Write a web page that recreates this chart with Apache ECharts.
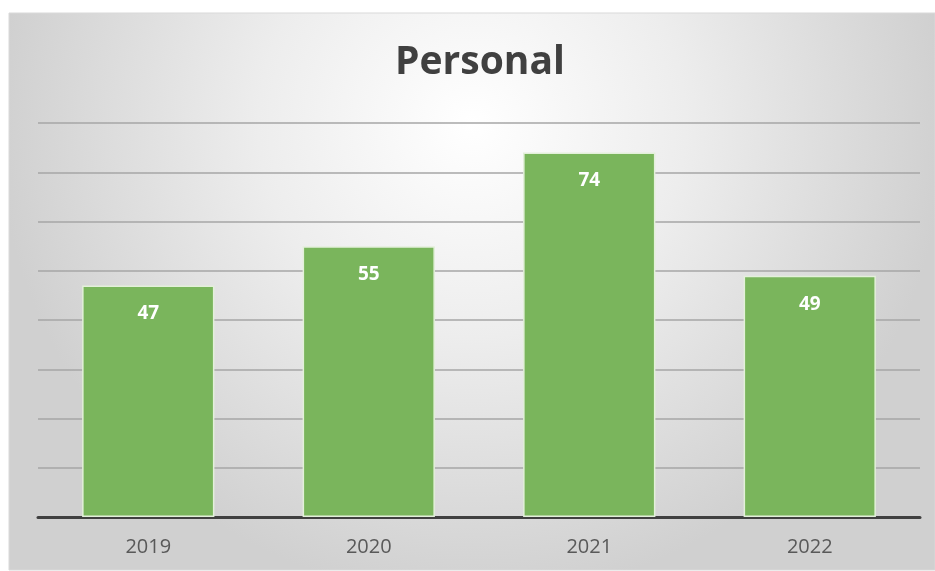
<!DOCTYPE html>
<html>
<head>
<meta charset="utf-8">
<script src="https://cdn.jsdelivr.net/npm/echarts@6/dist/echarts.min.js"></script>
<style>
html,body{margin:0;padding:0;background:#fff;}
#chart{width:935px;height:571px;}
</style>
</head>
<body>
<div id="chart"></div>
<script>
// Yearly counts for the "Personal" category
const years = ['2019', '2020', '2021', '2022'];
const counts = [47, 55, 74, 49];
const titleText = 'Personal';

const chart = echarts.init(document.getElementById('chart'));
chart.setOption({
  backgroundColor: '#ffffff',
  animation: false,
  graphic: [{
    type: 'rect',
    z: -10,
    shape: { x: 9, y: 13, width: 926, height: 557 },
    style: {
      fill: new echarts.graphic.RadialGradient(0.5, 0.2, 0.85, [
        { offset: 0, color: '#ffffff' },
        { offset: 0.45, color: '#ededed' },
        { offset: 1, color: '#d0d0d0' }
      ]),
      stroke: '#d9d9d9',
      lineWidth: 1
    }
  }, {
    type: 'text',
    x: 480,
    y: 63,
    style: {
      text: titleText,
      align: 'center',
      verticalAlign: 'middle',
      fontFamily: 'Open Sans',
      fontWeight: 'bold',
      fontSize: 39,
      fill: '#404040'
    }
  }],
  grid: { left: 38, right: 15, top: 123, bottom: 54, containLabel: false },
  xAxis: {
    type: 'category',
    data: years,
    axisLine: { lineStyle: { color: '#404040', width: 3 } },
    axisTick: { show: false },
    axisLabel: { fontFamily: 'Open Sans', fontSize: 20, color: '#595959', margin: 20 }
  },
  yAxis: {
    type: 'value',
    min: 0,
    max: 80,
    interval: 10,
    axisLine: { show: false },
    axisTick: { show: false },
    axisLabel: { show: false },
    splitLine: { lineStyle: { color: '#a6a6a6', width: 1.5 } }
  },
  series: [{
    type: 'bar',
    data: counts,
    barWidth: '60%',
    itemStyle: { color: '#7ab55c', borderColor: '#e3f0da', borderWidth: 1.5 },
    label: {
      show: true,
      position: 'insideTop',
      distance: 19,
      color: '#ffffff',
      fontFamily: 'Open Sans',
      fontWeight: 'bold',
      fontSize: 19
    }
  }]
});
</script>
</body>
</html>
